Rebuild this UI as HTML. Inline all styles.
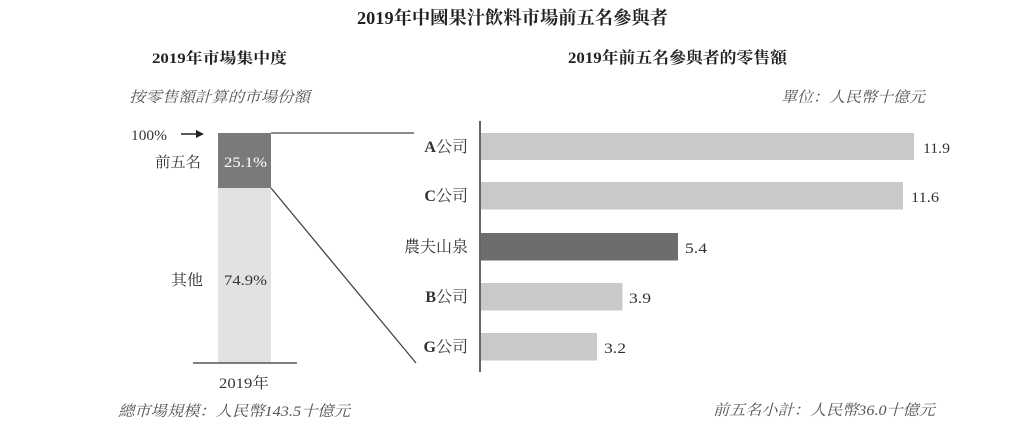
<!DOCTYPE html>
<html>
<head>
<meta charset="utf-8">
<style>
html,body{margin:0;padding:0;background:#fff;}
svg{display:block;}
text{font-family:"Liberation Serif","Noto Serif CJK SC","Noto Serif CJK TC",serif;fill:#333;}
.b{font-weight:bold;fill:#222;}
.i{font-style:italic;fill:#555;}
</style>
</head>
<body>
<svg width="1024" height="428" viewBox="0 0 1024 428" xmlns="http://www.w3.org/2000/svg">
<rect width="1024" height="428" fill="#fff"/>
<!-- Titles -->
<text class="b" x="357" y="24" font-size="18" textLength="311" lengthAdjust="spacingAndGlyphs">2019年中國果汁飲料市場前五名參與者</text>
<text class="b" x="152" y="63" font-size="15" textLength="135" lengthAdjust="spacingAndGlyphs">2019年市場集中度</text>
<text class="b" x="568" y="63" font-size="16" textLength="219" lengthAdjust="spacingAndGlyphs">2019年前五名參與者的零售額</text>
<text class="i" x="129" y="102" font-size="15" textLength="181" lengthAdjust="spacingAndGlyphs">按零售額計算的市場份額</text>
<text class="i" x="781" y="102" font-size="15" textLength="144" lengthAdjust="spacingAndGlyphs">單位：人民幣十億元</text>

<!-- Left stacked bar -->
<rect x="218" y="133" width="53" height="55" fill="#7a7a7a"/>
<rect x="218" y="188" width="53" height="175" fill="#e2e2e2"/>
<line x1="193" y1="363" x2="297" y2="363" stroke="#555" stroke-width="1.6"/>
<text x="131" y="140" font-size="15" textLength="36" lengthAdjust="spacingAndGlyphs">100%</text>
<line x1="181" y1="134" x2="197" y2="134" stroke="#222" stroke-width="1.5"/>
<polygon points="196,130 204,134 196,138" fill="#222"/>
<text x="155" y="167" font-size="15" textLength="46" lengthAdjust="spacingAndGlyphs">前五名</text>
<text x="224" y="167" font-size="15" textLength="43" lengthAdjust="spacingAndGlyphs" style="fill:#fff">25.1%</text>
<text x="171" y="285" font-size="15" textLength="32" lengthAdjust="spacingAndGlyphs">其他</text>
<text x="224" y="285" font-size="15" textLength="43" lengthAdjust="spacingAndGlyphs">74.9%</text>
<text x="219" y="388" font-size="15" textLength="50" lengthAdjust="spacingAndGlyphs">2019年</text>
<text class="i" x="118" y="416" font-size="15" textLength="232" lengthAdjust="spacingAndGlyphs">總市場規模：人民幣143.5十億元</text>

<!-- Connector lines -->
<line x1="271" y1="133" x2="414" y2="133" stroke="#444" stroke-width="1.3"/>
<line x1="271" y1="188" x2="416" y2="363" stroke="#444" stroke-width="1.3"/>

<!-- Right bar chart -->
<rect x="481" y="133" width="433" height="27" fill="#c9c9c9"/>
<rect x="481" y="182" width="422" height="27.5" fill="#c9c9c9"/>
<rect x="481" y="233" width="197" height="27.5" fill="#6d6d6d"/>
<rect x="481" y="283" width="141.5" height="27.5" fill="#c9c9c9"/>
<rect x="481" y="333" width="116" height="27.5" fill="#c9c9c9"/>
<line x1="480" y1="121" x2="480" y2="372" stroke="#555" stroke-width="1.8"/>

<text x="468" y="152" font-size="16" text-anchor="end"><tspan font-weight="bold">A</tspan>公司</text>
<text x="468" y="201" font-size="16" text-anchor="end"><tspan font-weight="bold">C</tspan>公司</text>
<text x="468" y="252" font-size="16" text-anchor="end">農夫山泉</text>
<text x="468" y="302" font-size="16" text-anchor="end"><tspan font-weight="bold">B</tspan>公司</text>
<text x="468" y="352" font-size="16" text-anchor="end"><tspan font-weight="bold">G</tspan>公司</text>

<text x="923" y="153" font-size="15" textLength="27" lengthAdjust="spacingAndGlyphs">11.9</text>
<text x="911" y="202" font-size="15" textLength="28" lengthAdjust="spacingAndGlyphs">11.6</text>
<text x="685" y="253" font-size="15" textLength="22" lengthAdjust="spacingAndGlyphs">5.4</text>
<text x="629" y="303" font-size="15" textLength="22" lengthAdjust="spacingAndGlyphs">3.9</text>
<text x="604" y="353" font-size="15" textLength="22" lengthAdjust="spacingAndGlyphs">3.2</text>

<text class="i" x="713" y="415" font-size="15" textLength="222" lengthAdjust="spacingAndGlyphs">前五名小計：人民幣36.0十億元</text>
</svg>
</body>
</html>
